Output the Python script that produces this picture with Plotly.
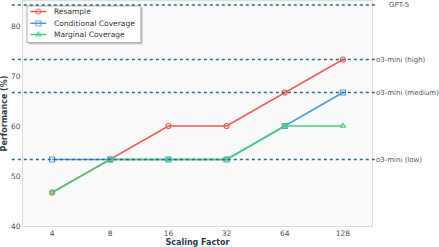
import plotly.graph_objects as go

categories = ["4", "8", "16", "32", "64", "128"]
resample = [46.7, 53.3, 60.0, 60.0, 66.7, 73.3]
conditional = [53.3, 53.3, 53.3, 53.3, 60.0, 66.7]
marginal = [46.7, 53.3, 53.3, 53.3, 60.0, 60.0]

ref_names = ["GPT-5", "o3-mini (high)", "o3-mini (medium)", "o3-mini (low)"]
ref_values = [84.2, 73.3, 66.7, 53.3]

series_names = ["Resample", "Conditional Coverage", "Marginal Coverage"]
series_values = [resample, conditional, marginal]
series_colors = ["#ee5a52", "#4a9de0", "#45d07a"]
series_symbols = ["circle-open", "square-open", "triangle-up-open"]

fig = go.Figure()
for name, vals, color, sym in zip(series_names, series_values, series_colors, series_symbols):
    fig.add_trace(go.Scatter(
        x=categories, y=vals, name=name, mode="lines+markers", showlegend=False,
        line=dict(color=color, width=1.5),
        marker=dict(symbol=sym, size=5, color=color, line=dict(width=1.2, color=color)),
    ))

# reference lines
for name, v in zip(ref_names, ref_values):
    x1 = 1.014 if name == "GPT-5" else 1.008
    fig.add_shape(type="line", xref="paper", yref="y", x0=-0.032, x1=x1, y0=v, y1=v,
                  line=dict(color="#2b6a8f", width=1.6, dash="dot"), layer="above")
    fig.add_annotation(xref="paper", yref="y", x=1.043 if name == "GPT-5" else 1.006, y=v,
                       text=name, showarrow=False, xanchor="left", yanchor="middle",
                       font=dict(size=7, color="#555555", family="DejaVu Sans"))

# compact legend (box + samples + labels)
lx0, lx1, ly0, ly1 = 0.0115, 0.338, 0.815, 0.978
fig.add_shape(type="rect", xref="paper", yref="paper", x0=lx0 + 0.005, x1=lx1 + 0.005,
              y0=ly0 - 0.008, y1=ly1 - 0.008, fillcolor="#cccccc", line=dict(width=0), layer="below")
fig.add_shape(type="rect", xref="paper", yref="paper", x0=lx0, x1=lx1, y0=ly0, y1=ly1,
              fillcolor="white", line=dict(color="#aaaaaa", width=1), layer="below")
row_y = [0.953, 0.901, 0.851]
for i, (name, color, sym) in enumerate(zip(series_names, series_colors, series_symbols)):
    fig.add_trace(go.Scatter(
        x=[0.021, 0.044, 0.067], y=[row_y[i]] * 3, xaxis="x2", yaxis="y2",
        mode="lines+markers", showlegend=False, hoverinfo="skip",
        line=dict(color=color, width=1.5),
        marker=dict(symbol=sym, size=[0, 5, 0], color=color, line=dict(width=1.2, color=color)),
    ))
    fig.add_annotation(xref="paper", yref="paper", x=0.082, y=row_y[i], text=name,
                       showarrow=False, xanchor="left", yanchor="middle",
                       font=dict(size=7.5, color="#333333", family="DejaVu Sans"))

fig.update_layout(
    width=439, height=247,
    margin=dict(l=23, r=67, t=1, b=21),
    paper_bgcolor="white", plot_bgcolor="#fafafa",
    font=dict(family="DejaVu Sans", size=8, color="#44546a"),
    showlegend=False,
    xaxis2=dict(overlaying="x", range=[0, 1], visible=False, fixedrange=True),
    yaxis2=dict(overlaying="y", range=[0, 1], visible=False, fixedrange=True),
)
fig.layout.xaxis.update(type="category", range=[-0.5, 5.5], showgrid=False, zeroline=False,
                        showline=True, linecolor="#dddddd", mirror=True, ticks="", automargin=False,
                        tickfont=dict(size=7.5, color="#44546a"),
                        title=dict(text="<b>Scaling Factor</b>", font=dict(size=8, color="#2d3e50"), standoff=0))
fig.layout.yaxis.update(range=[40, 85], tickvals=[40, 50, 60, 70, 80], showgrid=False, zeroline=False,
                        showline=True, linecolor="#dddddd", mirror=True, ticks="", automargin=False,
                        tickfont=dict(size=7.5, color="#44546a"),
                        title=dict(text="<b>Performance (%)</b>", font=dict(size=8, color="#2d3e50"), standoff=2))

fig.write_html("out.html", config={"displayModeBar": False},
               post_script="document.body.style.margin='0px';")
